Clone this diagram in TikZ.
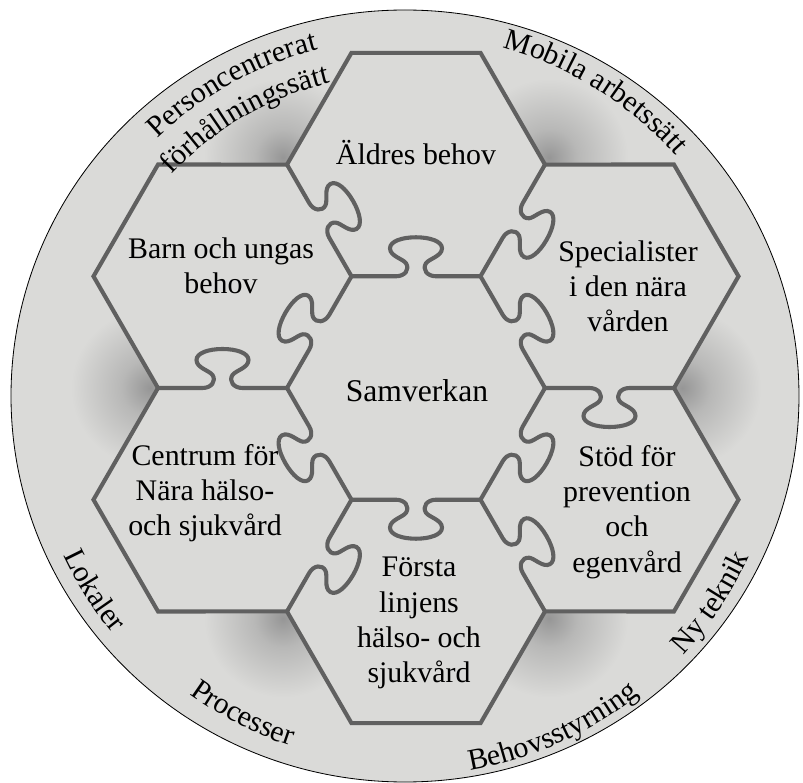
\documentclass[tikz,border=0pt]{standalone}
\usepackage{fontspec}
\setmainfont{Liberation Serif}
\usetikzlibrary{calc, decorations.text}

\definecolor{ringgray}{RGB}{218,218,216}
\definecolor{hexgray}{RGB}{218,218,216}
\definecolor{linegray}{RGB}{96,96,96}
\definecolor{shadowgray}{RGB}{150,150,150}

\pgfdeclareradialshading{notchglow}{\pgfpoint{0bp}{0bp}}{color(0bp)=(shadowgray); color(8bp)=(shadowgray!50!ringgray); color(22bp)=(ringgray); color(50bp)=(ringgray)}

\tikzset{hexline/.style = {line width=3.5pt, draw=linegray, line cap=round}}
\tikzset{hextext/.style = {font=\fontsize{25.5}{30}\selectfont, align=center, inner sep=0pt}}
\tikzset{ringtext/.style = {decorate, decoration={text along path, text align=center, text={|\ringfont|#1}}}}

\newcommand{\ringfont}{\fontsize{25.5}{30}\selectfont}
\newcommand{\tabedge}[2]{%
	\begin{scope}[shift={#1}, rotate=#2]
		\draw[hexline] (0,0) -- (44.5,0) .. controls (53.5,0) and (58.5,7) .. (54.5,13)
			.. controls (51.5,17.5) and (38.5,20) .. (38.5,28)
			.. controls (38.5,35) and (50.5,39) .. (64.5,39)
			.. controls (78.5,39) and (90.5,35) .. (90.5,28)
			.. controls (90.5,20) and (77.5,17.5) .. (74.5,13)
			.. controls (70.5,7) and (75.5,0) .. (84.5,0) -- (129,0);
	\end{scope}}

\begin{document}
\begin{tikzpicture}[x=0.03cm, y=0.03cm]
	\useasboundingbox (-416,-395) rectangle (387,388);
	\coordinate (c) at (-11,-8);
	\fill[ringgray] (c) ellipse [x radius=394, y radius=386];
	\foreach \a in {0,60,...,300}
		\shade[shading=notchglow] (\a:266) circle (90);

	\foreach \k in {0,...,5} {
		\coordinate (v\k) at (60*\k:129);
		\coordinate (n\k) at (60*\k:258);
	}
	\filldraw[hexline, fill=hexgray, line join=miter] (0:258) \foreach \a in {0,60,...,300} { -- (\a:258) -- (\a+19.1:341.3) -- (\a+40.9:341.3) } -- cycle;

	% centre piece
	\tabedge{(v1)}{-60}
	\tabedge{(v2)}{0}
	\tabedge{(v3)}{60}
	\tabedge{(v4)}{120}
	\tabedge{(v5)}{180}
	\tabedge{(v0)}{240}
	% between the outer pieces
	\tabedge{(n2)}{300}
	\tabedge{(n1)}{240}
	\tabedge{(n0)}{180}
	\tabedge{(v5)}{300}
	\tabedge{(v4)}{240}
	\tabedge{(n3)}{0}

	\node (samverkan) [hextext, font=\fontsize{27}{30}\selectfont] at (1,-3) {Samverkan};
	\node (aldre) [hextext, anchor=base] at (0,223) {Äldres behov};
	\node (barn) [hextext] at (-195,122) {Barn och ungas\\behov};
	\node (spec) [hextext] at (212,102) {Specialister\\i den nära\\vården};
	\node (centrum) [hextext] at (-211,-105) {Centrum för\\Nära hälso-\\och sjukvård};
	\node (stod) [hextext] at (211,-124) {Stöd för\\prevention\\och\\egenvård};
	\node (forsta) [hextext] at (3,-235) {Första\\linjens\\hälso- och\\sjukvård};

	\path[ringtext={Personcentrerat}] ($(c)+(164:357)$) arc[start angle=164, end angle=74, radius=357];
	\path[ringtext={förhållningssätt}] ($(c)+(165:322)$) arc[start angle=165, end angle=75, radius=322];
	\path[ringtext={Mobila arbetssätt}] ($(c)+(103:362)$) arc[start angle=103, end angle=13, radius=362];
	\path[ringtext={Lokaler}] ($(c)+(167:377)$) arc[start angle=167, end angle=257, radius=377];
	\path[ringtext={Processer}] ($(c)+(198:368)$) arc[start angle=198, end angle=288, radius=368];
	\path[ringtext={Behovsstyrning}] ($(c)+(249:380)$) arc[start angle=249, end angle=339, radius=380];
	\path[ringtext={Ny teknik}] ($(c)+(281:380)$) arc[start angle=281, end angle=371, radius=380];

	\draw[black, line width=0.7pt] (c) ellipse [x radius=394, y radius=386];
\end{tikzpicture}
\end{document}
